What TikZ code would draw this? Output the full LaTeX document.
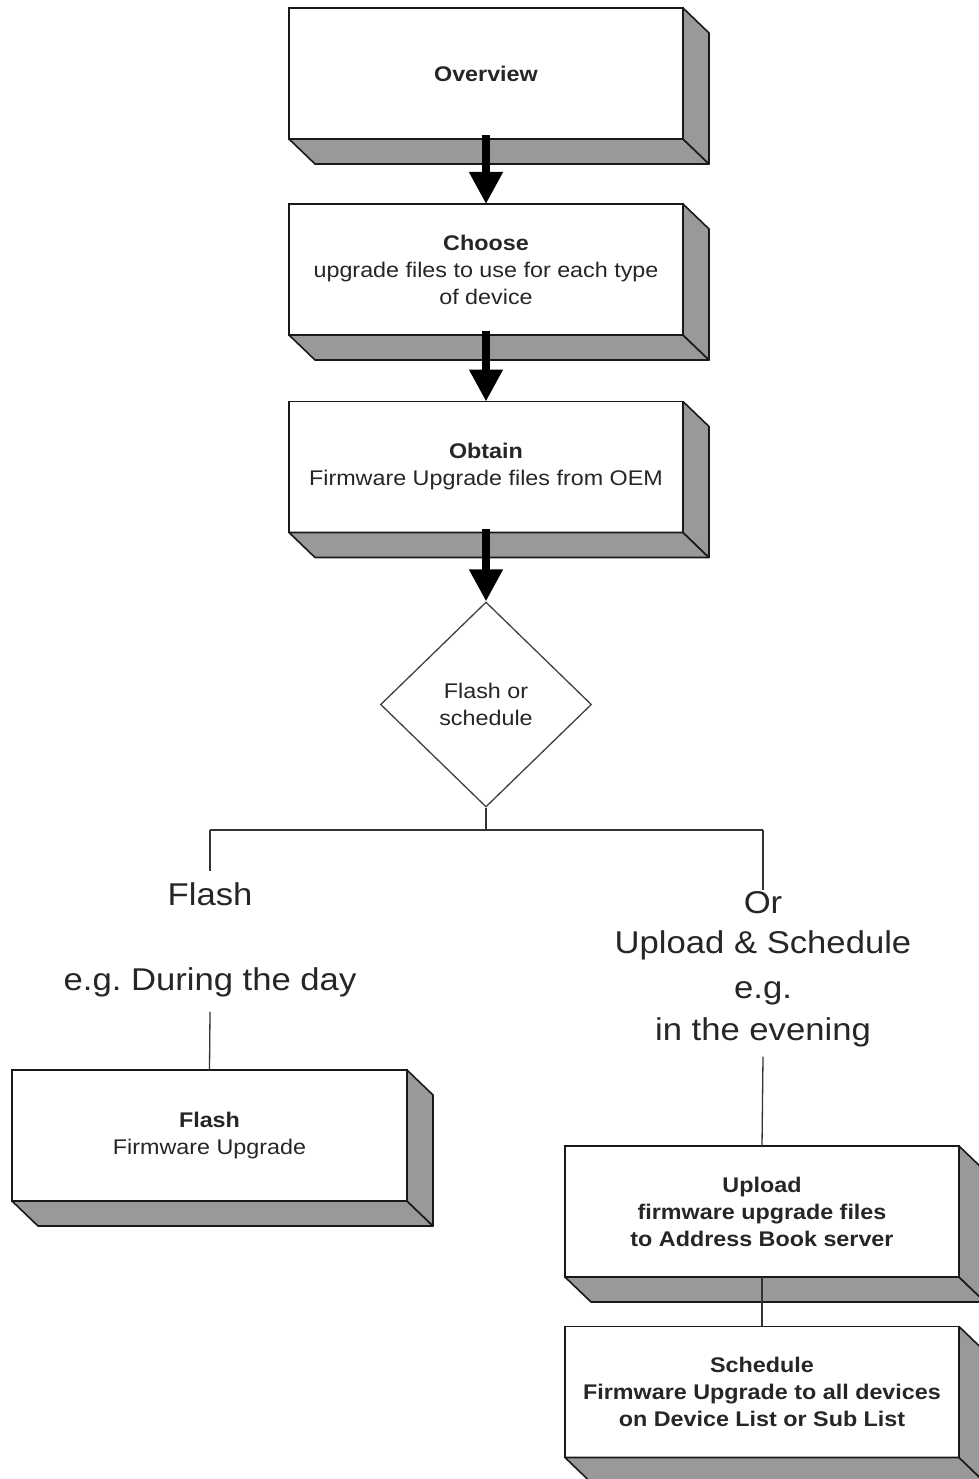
\documentclass[tikz,border=0pt]{standalone}
\usepackage{fontspec}
\setmainfont{Liberation Sans}[FakeStretch=1.1]
\usetikzlibrary{shapes.geometric,arrows.meta}
\frenchspacing

\begin{document}
\begin{tikzpicture}[x=1pt,y=-1pt,
    box/.style={draw=black!90,fill=white,line width=1.6pt,outer sep=0pt,inner sep=0pt,
      minimum width=394pt,minimum height=131pt,align=center,text=black!85,
      font=\fontsize{21.2}{27}\selectfont},
    side/.style={draw=black!90,fill=black!40,line width=1.6pt,line join=round},
    decide/.style={diamond,draw=black!75,fill=white,line width=1.3pt,aspect=1,inner sep=0pt,
      minimum width=211pt,minimum height=205pt,align=center,text=black!85,
      font=\fontsize{21.2}{27}\selectfont},
    big/.style={anchor=base,inner sep=1pt,text=black!85,font=\fontsize{31.5}{40}\selectfont},
    flow/.style={line width=7.5pt,black,-{Triangle[width=32pt,length=32pt]}},
    link/.style={line width=1.3pt,black!80}]
    \useasboundingbox (0,0) rectangle (978,1479);

    \node[box] (overview) at (486,73.5) {\textbf{Overview}};
    \node[box] (choose) at (486,269.5) {\textbf{Choose}\\upgrade files to use for each type\\of device};
    \node[box] (obtain) at (486,467) {\textbf{Obtain}\\Firmware Upgrade files from OEM};
    \node[decide] (choice) at (486,704.5) {Flash or\\schedule};

    \coordinate (jct) at (486,830);
    \coordinate (brL) at (210,830);
    \coordinate (brR) at (763,830);
    \coordinate (flashend) at (210,871);

    \node[big] (flashtxt) at (210,905) {Flash};
    \node[big] (daytxt) at (210,990) {e.g. During the day};
    \node[big] (ortxt) at (763,913) {Or};
    \node[big] (uploadtxt) at (763,953) {Upload \& Schedule};
    \node[big] (egtxt) at (763,998) {e.g.};
    \node[big] (eveningtxt) at (763,1040) {in the evening};

    \node[box,minimum width=395pt] (flashbox) at (209.5,1135.5) {\textbf{Flash}\\Firmware Upgrade};
    \node[box] (uploadbox) at (762,1211.5) {\textbf{Upload}\\\textbf{firmware upgrade files}\\\textbf{to Address Book server}};
    \node[box] (schedbox) at (762,1392) {\textbf{Schedule}\\\textbf{Firmware Upgrade to all devices}\\\textbf{on Device List or Sub List}};

    \foreach \b in {overview,choose,obtain,flashbox,uploadbox,schedbox} {
      \filldraw[side] (\b.south west) -- (\b.south east) -- ++(26,25) -- ([shift={(26,25)}]\b.south west) -- cycle;
      \filldraw[side] (\b.north east) -- ++(26,25) -- ([shift={(26,25)}]\b.south east) -- (\b.south east) -- cycle;
    }

    \draw[flow] ([yshift=4pt]overview.south) -- (choose.north);
    \draw[flow] ([yshift=4pt]choose.south) -- (obtain.north);
    \draw[flow] ([yshift=4pt]obtain.south) -- (choice.north);

    \draw[link] (choice.south) -- (jct);
    \draw[link] (brL) -- (brR);
    \draw[link] (brL) -- (flashend);
    \draw[link] (brR) -- (ortxt.north);
    \draw[link] ([yshift=-14pt]daytxt.south) -- (flashbox.north);
    \draw[link] ([yshift=-9pt]eveningtxt.south) -- (uploadbox.north);
    \draw[link] (uploadbox.south) -- (schedbox.north);
\end{tikzpicture}
\end{document}
